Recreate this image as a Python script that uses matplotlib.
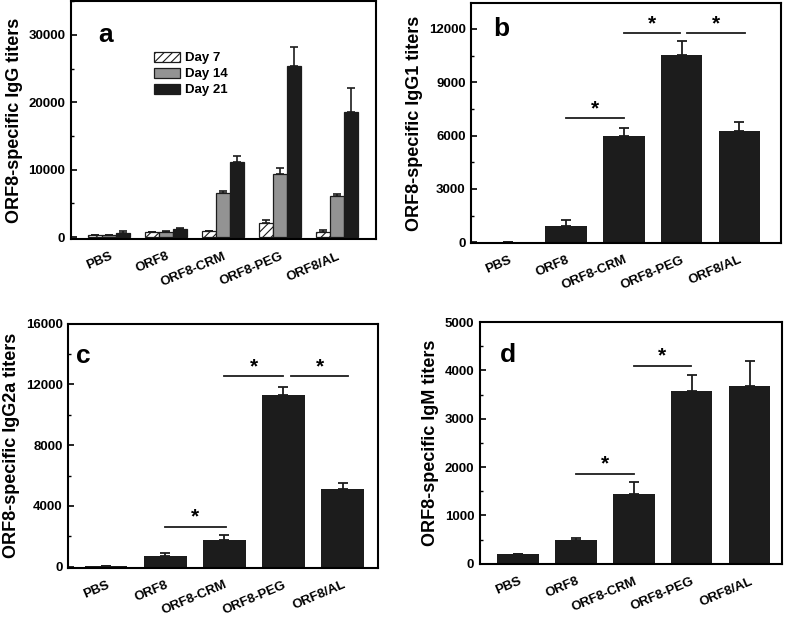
import matplotlib.pyplot as plt
import numpy as np
from matplotlib.ticker import MultipleLocator, AutoMinorLocator

plt.rcParams['font.family'] = ['Liberation Sans', 'DejaVu Sans']
plt.rcParams['font.weight'] = 'bold'
plt.rcParams['hatch.linewidth'] = 0.8
plt.rcParams['hatch.color'] = '#333333'

# ---- data ----
groups = ['PBS', 'ORF8', 'ORF8-CRM', 'ORF8-PEG', 'ORF8/AL']

igg_day7 = [300, 720, 900, 2150, 750]
igg_day7_err = [40, 60, 60, 430, 250]
igg_day14 = [350, 800, 6500, 9400, 6080]
igg_day14_err = [40, 60, 420, 880, 350]
igg_day21 = [650, 1230, 11170, 25450, 18530]
igg_day21_err = [200, 170, 930, 2720, 3600]

igg1 = [0, 900, 5950, 10540, 6270]
igg1_err = [0, 370, 490, 800, 500]

igg2a = [40, 680, 1750, 11310, 5110]
igg2a_err = [0, 220, 330, 550, 420]

igm = [200, 490, 1436, 3570, 3667]
igm_err = [0, 35, 250, 330, 525]

# significance brackets: (x0, x1, y)
sig_b = [(1.0, 2.0, 6980), (2.0, 2.98, 11760), (3.1, 4.1, 11760)]
sig_c = [(1.0, 2.02, 2650), (2.0, 2.99, 12540), (3.12, 4.1, 12540)]
sig_d = [(1.0, 2.0, 1860), (2.0, 2.99, 4100)]

black = '#1c1c1c'
gray = '#939393'
x = np.arange(len(groups))

fig = plt.figure(figsize=(7.88, 6.18), dpi=100)


def style_axes(ax, ylabel, major, letter, lx, ly, xlim, ylim):
    ax.set_xlim(*xlim)
    ax.set_ylim(*ylim)
    for s in ax.spines.values():
        s.set_linewidth(1.5)
    ax.yaxis.set_major_locator(MultipleLocator(major))
    ax.yaxis.set_minor_locator(AutoMinorLocator(2))
    ax.tick_params(axis='y', which='major', direction='in', length=4, width=1.2,
                   labelsize=9.5, pad=4)
    ax.tick_params(axis='y', which='minor', direction='in', length=2.5, width=1)
    ax.tick_params(axis='x', length=0, pad=8)
    ax.set_xticks(x)
    ax.set_xticklabels(groups, rotation=23, ha='right', rotation_mode='anchor',
                       fontsize=9.5, fontweight='bold')
    ax.set_ylabel(ylabel, fontsize=13, fontweight='bold')
    ax.text(lx, ly, letter, transform=ax.transAxes, fontsize=19,
            fontweight='bold', ha='center', va='center')


def draw_sig(ax, sigs):
    for x0, x1, y in sigs:
        ax.plot([x0, x1], [y, y], color=black, lw=1.3)
        ax.text((x0 + x1) / 2, y, '*', ha='center', va='bottom',
                fontsize=15, fontweight='bold')


def single_bars(ax, vals, errs, width=0.72):
    ax.bar(x, vals, width, color=black, edgecolor='none')
    ax.errorbar(x, vals, yerr=[np.zeros(len(errs)), errs], fmt='none',
                ecolor=black, elinewidth=1.3, capsize=3.5, capthick=1.3)


# ---- panel a ----
ax1 = fig.add_axes([0.090, 0.613, 0.387, 0.385])
w = 0.25
series = [(igg_day7, igg_day7_err, 'white', '////', 'Day 7'),
          (igg_day14, igg_day14_err, gray, None, 'Day 14'),
          (igg_day21, igg_day21_err, black, None, 'Day 21')]
for k, (vals, errs, fc, hatch, lab) in enumerate(series):
    pos = x + (k - 1) * w
    ax1.bar(pos, vals, w, color=fc, edgecolor=black, linewidth=0.9,
            hatch=hatch, label=lab)
    ax1.errorbar(pos, vals, yerr=[np.zeros(len(errs)), errs], fmt='none',
                 ecolor=black, elinewidth=1.2, capsize=3, capthick=1.2)
style_axes(ax1, 'ORF8-specific IgG titers', 10000, 'a', 0.115, 0.86,
           (-0.67, 4.68), (-300, 35000))
ax1.legend(loc='upper left', bbox_to_anchor=(0.255, 0.81), frameon=False,
           fontsize=9.5, handlelength=2.0, handleheight=0.8,
           labelspacing=0.25, handletextpad=0.35, borderaxespad=0)

# ---- panel b ----
ax2 = fig.add_axes([0.598, 0.607, 0.393, 0.388])
single_bars(ax2, igg1, igg1_err)
draw_sig(ax2, sig_b)
style_axes(ax2, 'ORF8-specific IgG1 titers', 3000, 'b', 0.097, 0.89,
           (-0.64, 4.72), (-40, 13450))

# ---- panel c ----
ax3 = fig.add_axes([0.0867, 0.0814, 0.393, 0.395])
single_bars(ax3, igg2a, igg2a_err)
draw_sig(ax3, sig_c)
style_axes(ax3, 'ORF8-specific IgG2a titers', 4000, 'c', 0.048, 0.867,
           (-0.64, 4.6), (-60, 16000))

# ---- panel d ----
ax4 = fig.add_axes([0.609, 0.0869, 0.384, 0.392])
single_bars(ax4, igm, igm_err)
draw_sig(ax4, sig_d)
style_axes(ax4, 'ORF8-specific IgM titers', 1000, 'd', 0.094, 0.865,
           (-0.66, 4.57), (-10, 5000))

fig.savefig('out.png', dpi=100)
